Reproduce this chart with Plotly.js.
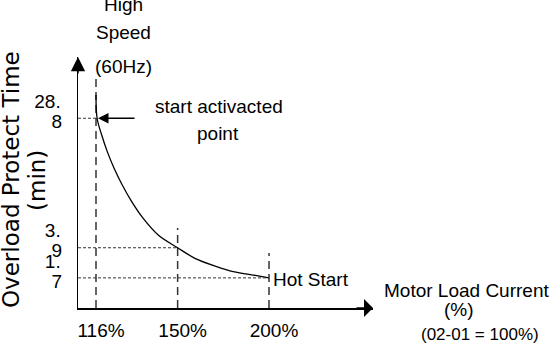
<!DOCTYPE html>
<html><head><meta charset="utf-8">
<script src="https://cdn.plot.ly/plotly-3.0.1.min.js"></script>
<style>html,body{margin:0;padding:0;background:#fff;} #chart{width:554px;height:355px;}</style>
</head><body><div id="chart"></div>
<script>
// Motor load current (% of rated current, 02-01 = 100%) marked on the diagram
const currentPct = [116, 150, 200];
const currentLabels = ['116%', '150%', '200%'];
// Overload protect time (min) at those currents
const protectTime = [28.8, 3.9, 1.7];
// Schematic (not to scale) height of each time on the diagram: 0 = current axis, 100 = arrow tip
const timeLevel = [75.6, 24.0, 12.0];
// Height each vertical dashed guide rises to
const guideTop = [91.6, 31.9, 21.9];
// Overload curve
const curvePct   = [116, 116.4, 118.1, 120.2, 122.8, 126.0, 129.8, 134.6, 141.1, 150, 158.4, 169.6, 178.7, 192.4, 200];
const curveLevel = [84.9, 75.6, 68.9, 62.3, 55.7, 49.0, 42.4, 35.7, 29.1, 24.0, 19.8, 16.5, 14.5, 12.9, 12.0];

const W = 554, H = 355, M = {l: 78, r: 181, t: 57, b: 47};
const PW = W - M.l - M.r, PH = H - M.t - M.b;
const px = p => (p - M.l) / PW;
const py = p => (H - M.b - p) / PH;
const xRange = [2.03985, 2.44324];
const xMin = Math.pow(10, xRange[0]);
const SANS = 'Liberation Sans, Arial, sans-serif';
const fText = {family: SANS, size: 19, color: '#000'};
const fSmall = {family: SANS, size: 17, color: '#000'};
const fWide = {family: 'DejaVu Sans, Liberation Sans, sans-serif', size: 23, color: '#000'};

const labelTop = protectTime.map(v => String(v).split('.')[0] + '.');
const labelBottom = protectTime.map(v => String(v).split('.')[1]);

const traces = [];
currentPct.forEach((c, i) => {
  traces.push({x: [c, c], y: [0, guideTop[i]], mode: 'lines', cliponaxis: false,
    line: {color: '#333', width: 1.5, dash: '8px,5px'}, hoverinfo: 'skip'});
  traces.push({x: [xMin, c], y: [timeLevel[i], timeLevel[i]], yaxis: 'y2', mode: 'lines', cliponaxis: false,
    line: {color: '#333', width: 1, dash: '3px,2px'}, hoverinfo: 'skip'});
});
traces.push({x: curvePct, y: curveLevel, mode: 'lines', cliponaxis: false,
  line: {color: '#000', width: 1.3, shape: 'spline', smoothing: 1}});

function txt(text, x, y, extra) {
  return Object.assign({text: text, xref: 'paper', yref: 'paper', x: px(x), y: py(y),
    xanchor: 'center', yanchor: 'middle', showarrow: false, font: fText}, extra || {});
}

const annotations = [
  // axis arrowheads
  {xref: 'paper', yref: 'paper', x: 0, y: 1, ax: 0, ay: 18, text: '', showarrow: true,
    arrowhead: 2, arrowsize: 1.9, arrowwidth: 1.5, arrowcolor: '#000', standoff: 0},
  {xref: 'paper', yref: 'paper', x: 1, y: 0, ax: -18, ay: 0, text: '', showarrow: true,
    arrowhead: 1, arrowsize: 2, arrowwidth: 1.5, arrowcolor: '#000', standoff: 0},
  // start activated point arrow
  {xref: 'x', yref: 'y', x: Math.log10(currentPct[0]), y: timeLevel[0], ax: 40, ay: 0, text: '',
    showarrow: true, arrowhead: 2, arrowsize: 1.4, arrowwidth: 1.5, arrowcolor: '#000', standoff: 2},
  txt('High', 123, 5),
  txt('Speed', 123, 32),
  txt('(60Hz)', 123, 66),
  txt('start activacted', 219, 106),
  txt('point', 218, 133),
  {xref: 'x', yref: 'y', x: Math.log10(currentPct[2]), y: timeLevel[2], xanchor: 'left', yanchor: 'middle',
    xshift: 2, yshift: -2, text: 'Hot Start', showarrow: false, font: fText},
  txt('Motor Load Current', 466, 290),
  txt('(%)', 459, 309),
  txt('(02-01 = 100%)', 480, 334, {font: fSmall}),
  txt('Overload Protect Time', 11, 180, {textangle: -90, font: fWide}),
  txt('(min)', 37, 181, {textangle: -90, font: fWide})
];

const layout = {
  width: W, height: H, margin: M, showlegend: false,
  paper_bgcolor: '#fff', plot_bgcolor: '#fff',
  xaxis: {type: 'log', range: xRange, tickvals: currentPct, ticktext: currentLabels,
    showgrid: false, zeroline: false, showline: true, linecolor: '#000', linewidth: 1.5,
    ticks: '', tickfont: fText, ticklabelshift: 5, ticklabelstandoff: 5, fixedrange: true},
  yaxis: {range: [0, 100], tickvals: timeLevel, ticktext: labelTop,
    showgrid: false, zeroline: false, showline: true, linecolor: '#000', linewidth: 1.5,
    ticks: '', tickfont: fText, ticklabelshift: -17, ticklabelstandoff: 12, fixedrange: true},
  yaxis2: {range: [0, 100], overlaying: 'y', side: 'left', anchor: 'x', tickvals: timeLevel, ticktext: labelBottom,
    showgrid: false, zeroline: false, showline: false,
    ticks: '', tickfont: fText, ticklabelshift: 3, ticklabelstandoff: 15, fixedrange: true},
  annotations: annotations
};

Plotly.newPlot('chart', traces, layout, {displayModeBar: false, staticPlot: true});
</script>
</body></html>
